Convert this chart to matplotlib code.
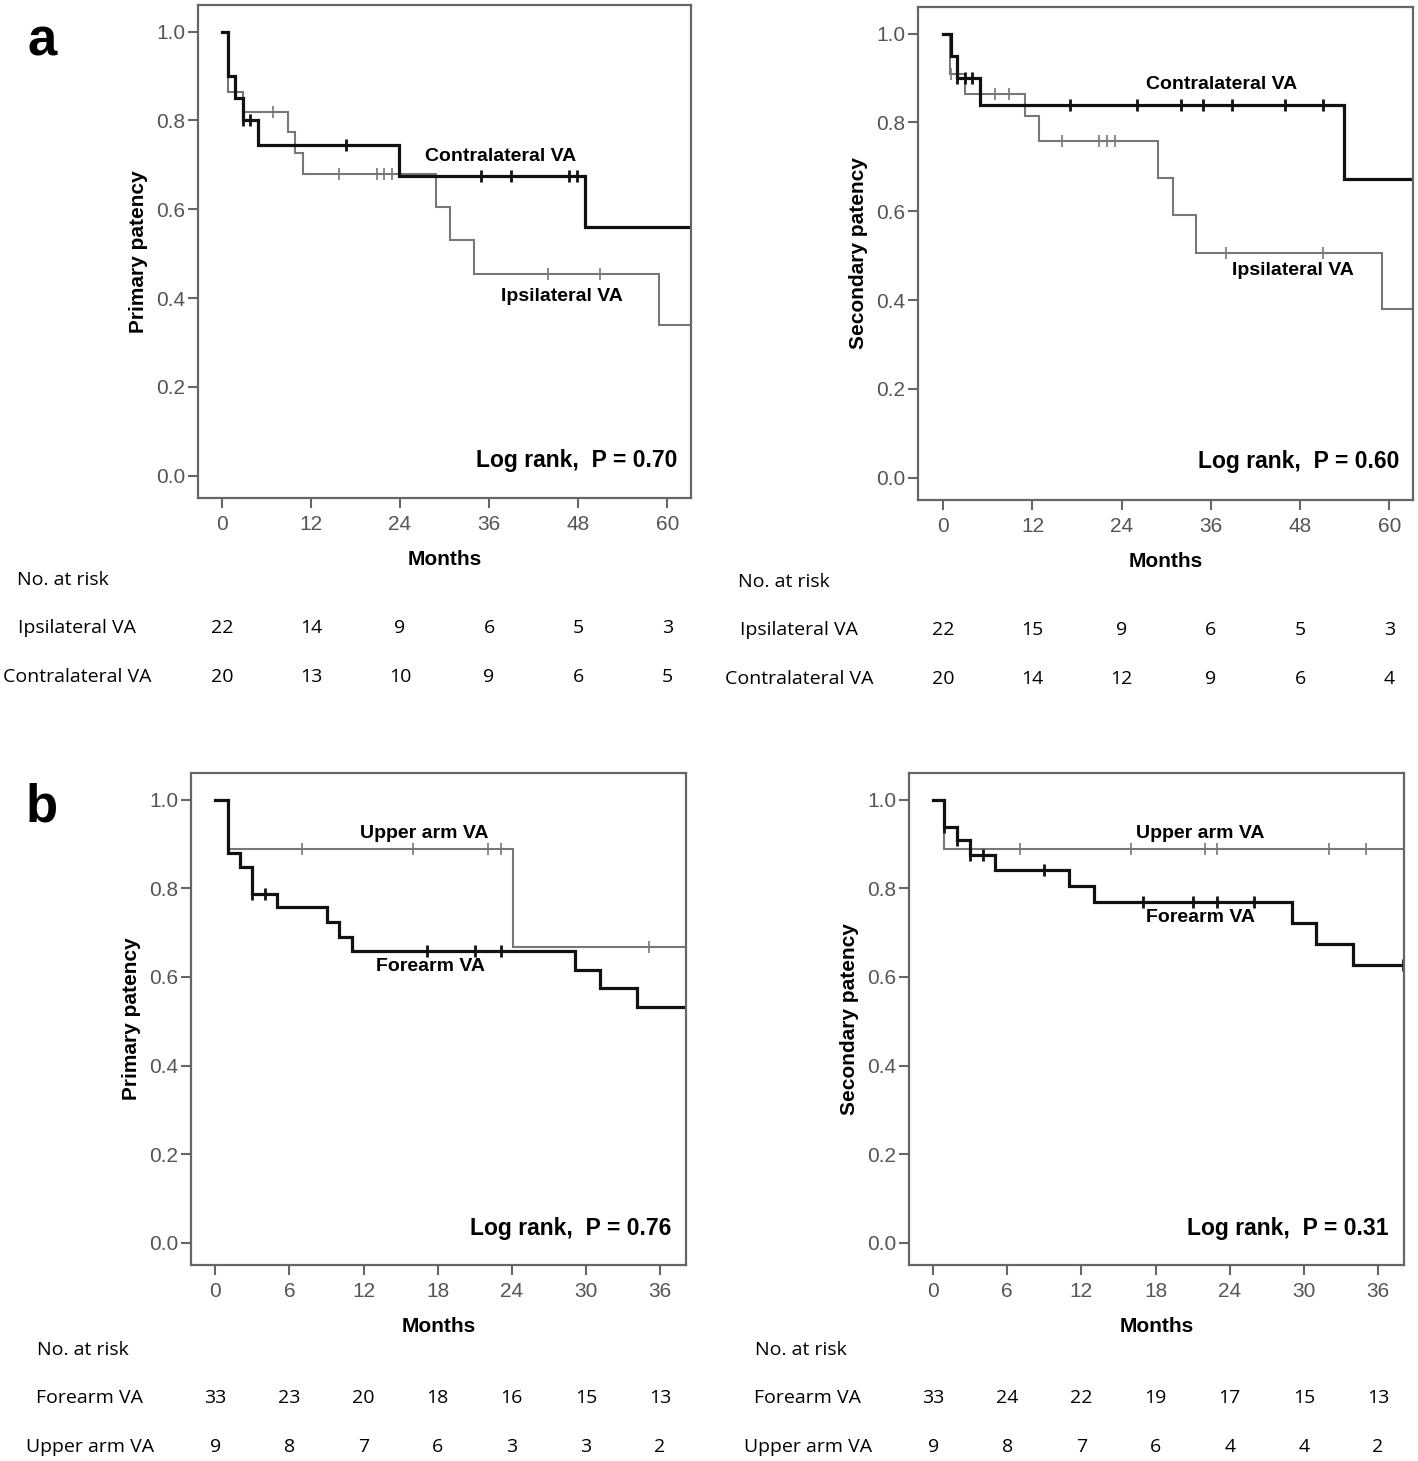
import matplotlib
matplotlib.use("Agg")
import matplotlib.pyplot as plt

W, H = 1418, 1461

# ---- panel a, primary patency (ipsilateral vs contralateral) ----
a1_contra_t = [0, 0.85, 1.8, 2.8, 4.9, 23.9, 48.9]
a1_contra_s = [1.0, 0.90, 0.85, 0.80, 0.745, 0.675, 0.56]
a1_contra_cens = [2.8, 3.8, 16.8, 34.9, 38.9, 46.8, 47.8]
a1_ipsi_t = [0, 0.85, 2.9, 8.9, 9.9, 11.0, 28.8, 30.8, 34.0, 58.9]
a1_ipsi_s = [1.0, 0.864, 0.818, 0.773, 0.727, 0.68, 0.605, 0.53, 0.454, 0.34]
a1_ipsi_cens = [6.9, 15.8, 20.9, 21.9, 22.9, 43.9, 50.9]
a1_risk_ipsi = [22, 14, 9, 6, 5, 3]
a1_risk_contra = [20, 13, 10, 9, 6, 5]

# ---- panel a, secondary patency ----
a2_contra_t = [0, 1.0, 1.9, 4.9, 53.9]
a2_contra_s = [1.0, 0.95, 0.90, 0.84, 0.672]
a2_contra_cens = [1.9, 2.9, 3.9, 17.0, 26.0, 32.0, 35.0, 38.9, 46.0, 51.1]
a2_ipsi_t = [0, 0.9, 2.9, 11.0, 12.9, 28.9, 30.9, 34.0, 59.0]
a2_ipsi_s = [1.0, 0.909, 0.864, 0.814, 0.759, 0.675, 0.591, 0.507, 0.38]
a2_ipsi_cens = [1.0, 7.0, 8.9, 16.0, 21.0, 22.0, 23.1, 38.0, 51.1]
a2_risk_ipsi = [22, 15, 9, 6, 5, 3]
a2_risk_contra = [20, 14, 12, 9, 6, 4]

# ---- panel b, primary patency (forearm vs upper arm) ----
b1_fore_t = [0, 1.0, 2.0, 3.0, 5.0, 9.0, 10.0, 11.1, 29.1, 31.1, 34.1]
b1_fore_s = [1.0, 0.879, 0.848, 0.788, 0.757, 0.724, 0.691, 0.658, 0.615, 0.574, 0.533]
b1_fore_cens = [3.0, 4.0, 17.1, 21.0, 23.1]
b1_upper_t = [0, 1.0, 24.1]
b1_upper_s = [1.0, 0.889, 0.667]
b1_upper_cens = [7.0, 16.0, 22.1, 23.1, 35.1]
b1_risk_fore = [33, 23, 20, 18, 16, 15, 13]
b1_risk_upper = [9, 8, 7, 6, 3, 3, 2]

# ---- panel b, secondary patency ----
b2_fore_t = [0, 0.92, 1.97, 3.0, 5.0, 11.0, 13.0, 29.0, 31.0, 34.0]
b2_fore_s = [1.0, 0.939, 0.909, 0.875, 0.842, 0.806, 0.770, 0.721, 0.674, 0.626]
b2_fore_cens = [0.92, 1.97, 3.0, 4.0, 9.0, 17.0, 21.0, 23.0, 26.0, 38.0]
b2_upper_t = [0, 0.92]
b2_upper_s = [1.0, 0.889]
b2_upper_cens = [7.0, 16.0, 22.0, 23.0, 32.0, 35.0]
b2_risk_fore = [33, 24, 22, 19, 17, 15, 13]
b2_risk_upper = [9, 8, 7, 6, 4, 4, 2]

a_ticks = [0, 12, 24, 36, 48, 60]
b_ticks = [0, 6, 12, 18, 24, 30, 36]

plt.rcParams['font.family'] = ['Liberation Sans', 'DejaVu Sans']
TABLE_FONT = ['Open Sans', 'DejaVu Sans']
GRAY_TXT = '#555555'
FRAME = '#666666'


def make_ax(fig, l, t, r, b):
    return fig.add_axes([l / W, 1 - b / H, (r - l) / W, (b - t) / H])


def km(ax, t, s, cens, xmax, color, lw, mew):
    tt = list(t) + [xmax]
    ss = list(s) + [s[-1]]
    ax.step(tt, ss, where='post', color=color, lw=lw, solid_joinstyle='miter')
    cy = []
    for c in cens:
        idx = max(i for i, v in enumerate(t) if v <= c)
        cy.append(s[idx])
    ax.plot(cens, cy, ls='none', marker='|', ms=8, mew=mew, color=color)


def style(ax, xlim, ticks, ylabel):
    ax.set_xlim(*xlim)
    ax.set_ylim(-0.05, 1.06)
    ax.set_xticks(ticks)
    ax.set_yticks([0, 0.2, 0.4, 0.6, 0.8, 1.0])
    ax.set_yticklabels(['0.0', '0.2', '0.4', '0.6', '0.8', '1.0'])
    for sp in ax.spines.values():
        sp.set_color(FRAME)
        sp.set_linewidth(1.6)
    ax.tick_params(direction='out', length=7, width=1.5, color=FRAME,
                   labelcolor=GRAY_TXT, labelsize=15)
    ax.tick_params(axis='x', pad=5)
    ax.tick_params(axis='y', pad=2)
    ax.set_xlabel('Months', fontsize=15, fontweight='bold')
    ax.xaxis.set_label_coords(0.5, -0.106)
    ax.set_ylabel(ylabel, fontsize=15, fontweight='bold')
    ax.yaxis.set_label_coords(-0.101, 0.5)


def risk_table(fig, ax, ticks, label_x, head_x, ys, names, rows):
    fig.text(head_x / W, 1 - ys[0] / H, 'No. at risk', fontsize=14,
             family=TABLE_FONT, ha='left', va='center')
    for name, row, y in zip(names, rows, ys[1:]):
        fig.text(label_x / W, 1 - y / H, name, fontsize=14,
                 family=TABLE_FONT, ha='center', va='center')
        for tk, n in zip(ticks, row):
            xf = fig.transFigure.inverted().transform(ax.transData.transform((tk, 0)))[0]
            fig.text(xf, 1 - y / H, str(n), fontsize=14,
                     family=TABLE_FONT, ha='center', va='center')


fig = plt.figure(figsize=(W / 100, H / 100), dpi=100, facecolor='white')

BLACK = '#111111'
GRAY = '#777777'

# panel a left
ax1 = make_ax(fig, 198, 5, 691, 498)
xl = (-3.2, 63.2)
km(ax1, a1_ipsi_t, a1_ipsi_s, a1_ipsi_cens, xl[1], GRAY, 1.5, 1.2)
km(ax1, a1_contra_t, a1_contra_s, a1_contra_cens, xl[1], BLACK, 2.3, 2.0)
style(ax1, xl, a_ticks, 'Primary patency')
ax1.text(37.5, 0.718, 'Contralateral VA', fontsize=14, fontweight='bold', ha='center', va='center')
ax1.text(45.8, 0.404, 'Ipsilateral VA', fontsize=14, fontweight='bold', ha='center', va='center')
ax1.text(0.972, 0.077, 'Log rank,  P = 0.70', transform=ax1.transAxes, fontsize=16.5,
         fontweight='bold', ha='right', va='center')
risk_table(fig, ax1, a_ticks, 77, 17, [580, 628, 677],
           ['Ipsilateral VA', 'Contralateral VA'], [a1_risk_ipsi, a1_risk_contra])

# panel a right
ax2 = make_ax(fig, 918, 7, 1413, 500)
xl = (-3.4, 63.2)
km(ax2, a2_ipsi_t, a2_ipsi_s, a2_ipsi_cens, xl[1], GRAY, 1.5, 1.2)
km(ax2, a2_contra_t, a2_contra_s, a2_contra_cens, xl[1], BLACK, 2.3, 2.0)
style(ax2, xl, a_ticks, 'Secondary patency')
ax2.text(37.4, 0.886, 'Contralateral VA', fontsize=14, fontweight='bold', ha='center', va='center')
ax2.text(47.1, 0.466, 'Ipsilateral VA', fontsize=14, fontweight='bold', ha='center', va='center')
ax2.text(0.972, 0.078, 'Log rank,  P = 0.60', transform=ax2.transAxes, fontsize=16.5,
         fontweight='bold', ha='right', va='center')
risk_table(fig, ax2, a_ticks, 799, 738, [582, 630, 679],
           ['Ipsilateral VA', 'Contralateral VA'], [a2_risk_ipsi, a2_risk_contra])

# panel b left
ax3 = make_ax(fig, 191, 773, 686, 1265)
xl = (-1.97, 38.1)
km(ax3, b1_upper_t, b1_upper_s, b1_upper_cens, xl[1], GRAY, 1.5, 1.2)
km(ax3, b1_fore_t, b1_fore_s, b1_fore_cens, xl[1], BLACK, 2.3, 2.0)
style(ax3, xl, b_ticks, 'Primary patency')
ax3.text(16.9, 0.924, 'Upper arm VA', fontsize=14, fontweight='bold', ha='center', va='center')
ax3.text(17.4, 0.624, 'Forearm VA', fontsize=14, fontweight='bold', ha='center', va='center')
ax3.text(0.971, 0.075, 'Log rank,  P = 0.76', transform=ax3.transAxes, fontsize=16.5,
         fontweight='bold', ha='right', va='center')
risk_table(fig, ax3, b_ticks, 90, 37, [1350, 1398, 1447],
           ['Forearm VA', 'Upper arm VA'], [b1_risk_fore, b1_risk_upper])

# panel b right
ax4 = make_ax(fig, 909, 773, 1404, 1265)
xl = (-1.95, 38.1)
km(ax4, b2_upper_t, b2_upper_s, b2_upper_cens, xl[1], GRAY, 1.5, 1.2)
km(ax4, b2_fore_t, b2_fore_s, b2_fore_cens, xl[1], BLACK, 2.3, 2.0)
style(ax4, xl, b_ticks, 'Secondary patency')
ax4.text(21.6, 0.924, 'Upper arm VA', fontsize=14, fontweight='bold', ha='center', va='center')
ax4.text(21.65, 0.733, 'Forearm VA', fontsize=14, fontweight='bold', ha='center', va='center')
ax4.text(0.968, 0.075, 'Log rank,  P = 0.31', transform=ax4.transAxes, fontsize=16.5,
         fontweight='bold', ha='right', va='center')
risk_table(fig, ax4, b_ticks, 808, 755, [1350, 1398, 1447],
           ['Forearm VA', 'Upper arm VA'], [b2_risk_fore, b2_risk_upper])

# panel letters
fig.text(42 / W, 1 - 42 / H, 'a', fontsize=38, fontweight='bold', ha='center', va='center')
fig.text(42 / W, 1 - 808 / H, 'b', fontsize=38, fontweight='bold', ha='center', va='center')

fig.savefig('out.png', dpi=100, facecolor='white')
